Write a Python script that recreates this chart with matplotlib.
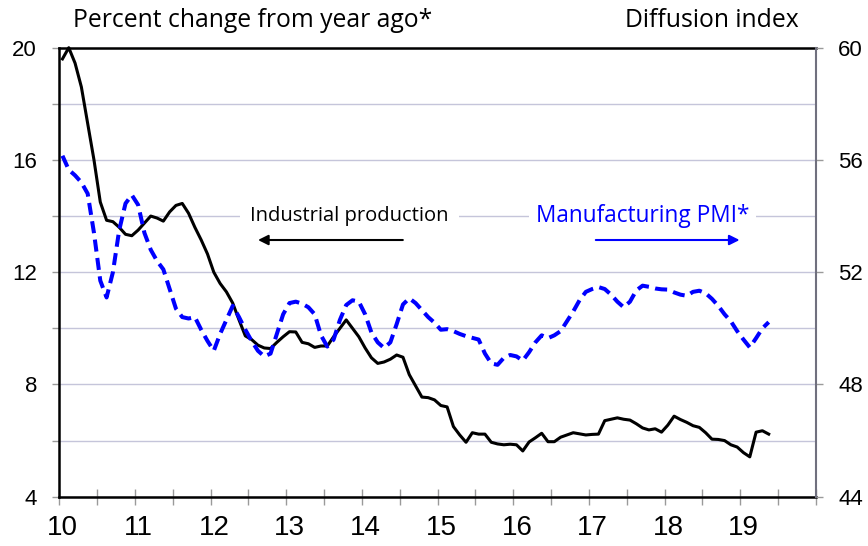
import numpy as np
import matplotlib
matplotlib.use("Agg")
import matplotlib.pyplot as plt
from matplotlib.ticker import FixedLocator, NullFormatter
from matplotlib.transforms import ScaledTranslation

# monthly data, Jan 2010 - May 2019
ip_yoy = [19.6, 20.0, 19.45, 18.6, 17.3, 16.0, 14.5, 13.85, 13.8, 13.6, 13.35, 13.3,
          13.5, 13.75, 14.0, 13.93, 13.82, 14.15, 14.38, 14.45, 14.1, 13.6, 13.15, 12.65,
          12.0, 11.6, 11.3, 10.9, 10.3, 9.73, 9.6, 9.4, 9.3, 9.28, 9.5, 9.7,
          9.88, 9.87, 9.5, 9.45, 9.32, 9.37, 9.37, 9.7, 10.0, 10.3, 10.0, 9.7,
          9.3, 8.95, 8.75, 8.8, 8.9, 9.05, 8.97, 8.35, 7.95, 7.55, 7.53, 7.45,
          7.25, 7.2, 6.5, 6.2, 5.94, 6.28, 6.23, 6.23, 5.94, 5.88, 5.85, 5.87,
          5.85, 5.63, 5.95, 6.1, 6.26, 5.96, 5.96, 6.12, 6.2, 6.28, 6.24, 6.2,
          6.22, 6.23, 6.71, 6.76, 6.81, 6.76, 6.73, 6.6, 6.45, 6.38, 6.42, 6.3,
          6.55, 6.87, 6.75, 6.65, 6.53, 6.47, 6.28, 6.05, 6.04, 6.0, 5.85, 5.77,
          5.57, 5.42, 6.3, 6.35, 6.23]

pmi = [56.15, 55.65, 55.45, 55.2, 54.8, 53.4, 51.7, 51.1, 52.0, 53.5, 54.45, 54.75,
       54.4, 53.4, 52.8, 52.4, 52.1, 51.4, 50.7, 50.4, 50.35, 50.4, 49.95, 49.55,
       49.2, 49.8, 50.3, 50.8, 50.4, 49.95, 49.55, 49.2, 49.0, 49.1, 49.8, 50.5,
       50.9, 50.95, 50.88, 50.75, 50.5, 49.75, 49.35, 49.6, 50.3, 50.83, 51.0, 50.95,
       50.5, 49.85, 49.5, 49.3, 49.5, 50.15, 50.85, 51.07, 50.9, 50.65, 50.4, 50.2,
       49.95, 49.97, 49.9, 49.8, 49.72, 49.66, 49.6, 49.1, 48.75, 48.7, 48.95, 49.05,
       49.0, 48.85, 49.15, 49.5, 49.75, 49.65, 49.75, 49.9, 50.25, 50.6, 51.0, 51.3,
       51.4, 51.47, 51.4, 51.2, 50.95, 50.75, 50.95, 51.35, 51.52, 51.48, 51.42, 51.39,
       51.38, 51.28, 51.2, 51.16, 51.3, 51.34, 51.25, 51.05, 50.8, 50.5, 50.25, 49.9,
       49.6, 49.32, 49.65, 50.0, 50.22]

start_year = 2010
years = list(range(2010, 2021))
year_labels = ["10", "11", "12", "13", "14", "15", "16", "17", "18", "19", ""]
left_ticks = [4, 8, 12, 16, 20]
right_ticks = [44, 48, 52, 56, 60]

# mid-month positions
t = start_year + (np.arange(len(ip_yoy)) + 0.5) / 12

tick_font = "Liberation Sans"
text_font = "Open Sans"
grid_col = "#c5c5da"
tick_col = "#9a9a9a"

fig = plt.figure(figsize=(8.68, 5.46), dpi=100)
ax = fig.add_axes([59.3/868, 1 - 496.7/546, (816 - 59.3)/868, (496.7 - 47.7)/546])
ax2 = ax.twinx()

ax.set_xlim(2010, 2020)
ax.set_ylim(4, 20)
ax2.set_ylim(44, 60)

# grid on left axis every 2
ax.yaxis.set_major_locator(FixedLocator(left_ticks))
ax.yaxis.set_minor_locator(FixedLocator(np.arange(6, 20, 4)))
ax.yaxis.set_minor_formatter(NullFormatter())
ax.grid(axis="y", which="both", color=grid_col, lw=1.0, zorder=0)
ax.set_axisbelow(True)

ax.xaxis.set_major_locator(FixedLocator(years))
ax.xaxis.set_minor_locator(FixedLocator(np.arange(2010.5, 2020, 1)))
ax.set_xticklabels(year_labels)

ax.tick_params(axis="y", which="both", direction="out", length=5, width=1,
               color=tick_col, pad=11, labelsize=16)
ax.tick_params(axis="x", which="both", direction="inout", length=12, width=1,
               color=tick_col, pad=7, labelsize=20)
ax2.yaxis.set_major_locator(FixedLocator(right_ticks))
ax2.tick_params(axis="y", direction="out", length=5, width=1, color=tick_col,
                pad=11, labelsize=16)

for lab in ax.get_xticklabels() + ax.get_yticklabels() + ax2.get_yticklabels():
    lab.set_family(tick_font)
for lab in ax.get_xticklabels():
    lab.set_transform(lab.get_transform() + ScaledTranslation(3.5/100, 0, fig.dpi_scale_trans))

for s in ["top", "left", "bottom"]:
    ax.spines[s].set_color("black")
    ax.spines[s].set_linewidth(1.8)
ax.spines["right"].set_visible(False)
for s in ["top", "left", "bottom"]:
    ax2.spines[s].set_visible(False)
ax2.spines["right"].set_color("#70707e")
ax2.spines["right"].set_linewidth(1.5)

ax.plot(t, ip_yoy, color="black", lw=2.2, zorder=3, clip_on=False)
ax2.plot(t, pmi, color="#0000ff", lw=2.9, dashes=(3.0, 1.6), zorder=3)

# annotations
ax.text(0.3837, 0.625, "Industrial production", transform=ax.transAxes,
        ha="center", va="center", fontsize=14.5, family=text_font, color="black",
        bbox=dict(boxstyle="square,pad=0.5", fc="white", ec="none"), zorder=4)
ax.annotate("", xy=(0.2626, 0.5717), xytext=(0.454, 0.5717), xycoords="axes fraction",
            arrowprops=dict(arrowstyle="-|>,head_length=0.6,head_width=0.3",
                            color="black", lw=1.5, shrinkA=0, shrinkB=0), zorder=6)
ax2.text(0.7707, 0.625, "Manufacturing PMI*", transform=ax2.transAxes,
         ha="center", va="center", fontsize=16.3, family=text_font, color="#0000ff",
         bbox=dict(boxstyle="square,pad=0.3", fc="white", ec="none"), zorder=4)
ax2.annotate("", xy=(0.899, 0.5717), xytext=(0.709, 0.5717), xycoords="axes fraction",
             arrowprops=dict(arrowstyle="-|>,head_length=0.6,head_width=0.3",
                             color="#0000ff", lw=1.5, shrinkA=0, shrinkB=0), zorder=6)

fig.text(72.7/868, 1 - 26.7/546, "Percent change from year ago*", ha="left",
         va="baseline", fontsize=17.8, family=text_font)
fig.text(799/868, 1 - 26.7/546, "Diffusion index", ha="right",
         va="baseline", fontsize=17.8, family=text_font)

fig.savefig("out.png", dpi=100)
